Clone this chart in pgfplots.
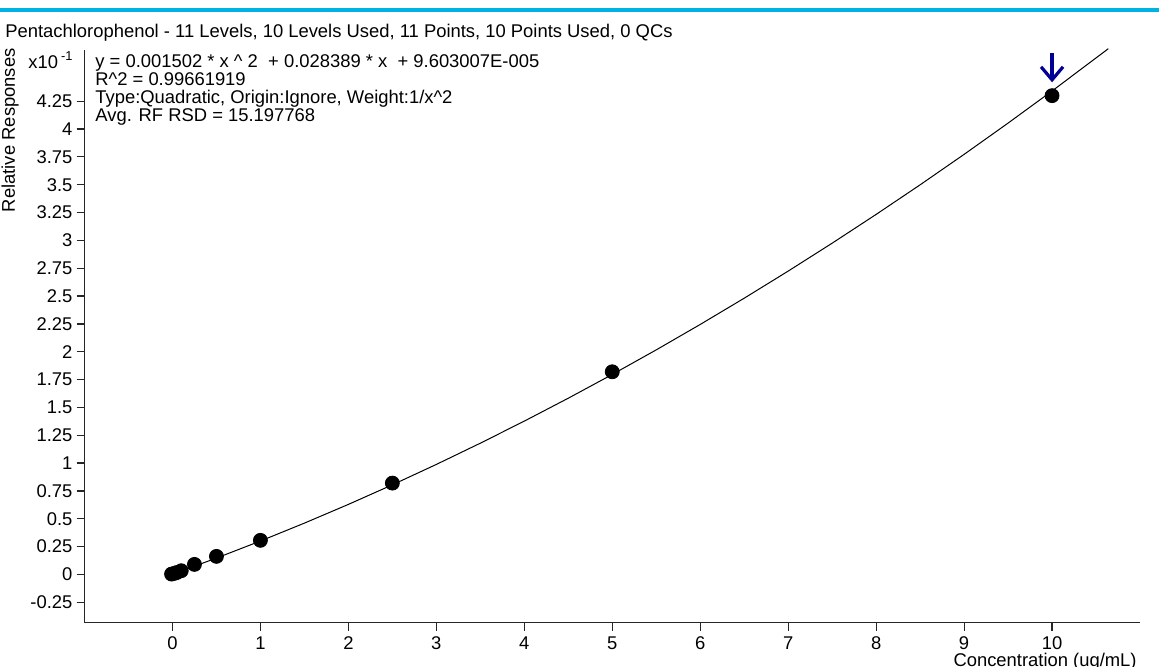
\documentclass[border=0pt]{standalone}
\usepackage{pgfplots}
\pgfplotsset{compat=1.18}
\usepackage{fontspec}
\setmainfont{Liberation Sans}
\usetikzlibrary{arrows.meta}
\definecolor{topblue}{RGB}{0,178,228}
\definecolor{arrowblue}{RGB}{0,0,150}
\begin{document}
\begin{tikzpicture}[font=\fontsize{9.2}{11}\selectfont]
\useasboundingbox (-42.25pt,-21.75pt) rectangle (537.25pt,311.25pt);
\draw[topblue, line width=1.8pt] (-42.25pt,306.25pt) -- (537.25pt,306.25pt);
\node[anchor=base west, inner sep=0] at (-39.75pt,292.75pt) {Pentachlorophenol - 11 Levels, 10 Levels Used, 11 Points, 10 Points Used, 0 QCs};
\node[rotate=90, anchor=base east, inner sep=0] at (-34.75pt,287.25pt) {Relative Responses};
\node[anchor=base west, inner sep=0] at (-28.25pt,277.25pt) {x10\,\textsuperscript{-1}};
\node[anchor=base west, inner sep=0] at (5.25pt,277.5pt) {y = 0.001502 * x \^{} 2 \ + 0.028389 * x \ + 9.603007E-005};
\node[anchor=base west, inner sep=0] at (5.25pt,268.5pt) {R\^{}2 = 0.99661919};
\node[anchor=base west, inner sep=0] at (5.25pt,259.5pt) {Type:Quadratic, Origin:Ignore, Weight:1/x\^{}2};
\node[anchor=base west, inner sep=0] at (5.25pt,250.5pt) {Avg. RF RSD = 15.197768};
\node[anchor=base east, inner sep=0] at (526.25pt,-22pt) {Concentration (ug/mL)};
\begin{axis}[
  at={(0pt,0pt)}, anchor=south west,
  scale only axis, width=527.75pt, height=286.25pt,
  axis x line=bottom, axis y line=left,
  axis line style={-, line width=0.7pt, black!85},
  xmin=-1, xmax=11, ymin=-0.432, ymax=4.71,
  xtick={0,1,2,3,4,5,6,7,8,9,10},
  ytick={-0.25,0,0.25,0.5,0.75,1,1.25,1.5,1.75,2,2.25,2.5,2.75,3,3.25,3.5,3.75,4,4.25},
  tick align=outside, major tick length=4pt,
  tick style={line width=0.6pt, black!85},
  /pgf/number format/assume math mode=true,
  yticklabel style={/pgf/number format/fixed, /pgf/number format/precision=2, xshift=1.5pt},
  xticklabel style={yshift=0.5pt},
  clip=false,
]
\addplot[black, line width=0.5pt] coordinates {
(0,0.001) (0.5,0.1467) (1,0.2999) (1.5,0.4606) (2,0.6288) (2.5,0.8046)
(3,0.9878) (3.5,1.1786) (4,1.3768) (4.5,1.5826) (5,1.7959) (5.5,2.0167)
(6,2.2450) (6.5,2.4808) (7,2.7242) (7.5,2.9750) (8,3.2334) (8.5,3.4992)
(9,3.7726) (9.5,4.0535) (10,4.3419) (10.64,4.7220)};
\addplot[only marks, mark=*, mark size=3.5pt, black] coordinates {
(-0.01,0.003) (0.025,0.01) (0.05,0.017) (0.1,0.033) (0.25,0.09) (0.5,0.162)
(1,0.306) (2.5,0.82) (5,1.82) (10,4.30)};
\addplot[arrowblue, line width=1.6pt, -{Straight Barb[length=6.5pt, width=11pt]}] coordinates {(10,4.68) (10,4.42)};
\end{axis}
\end{tikzpicture}
\end{document}
